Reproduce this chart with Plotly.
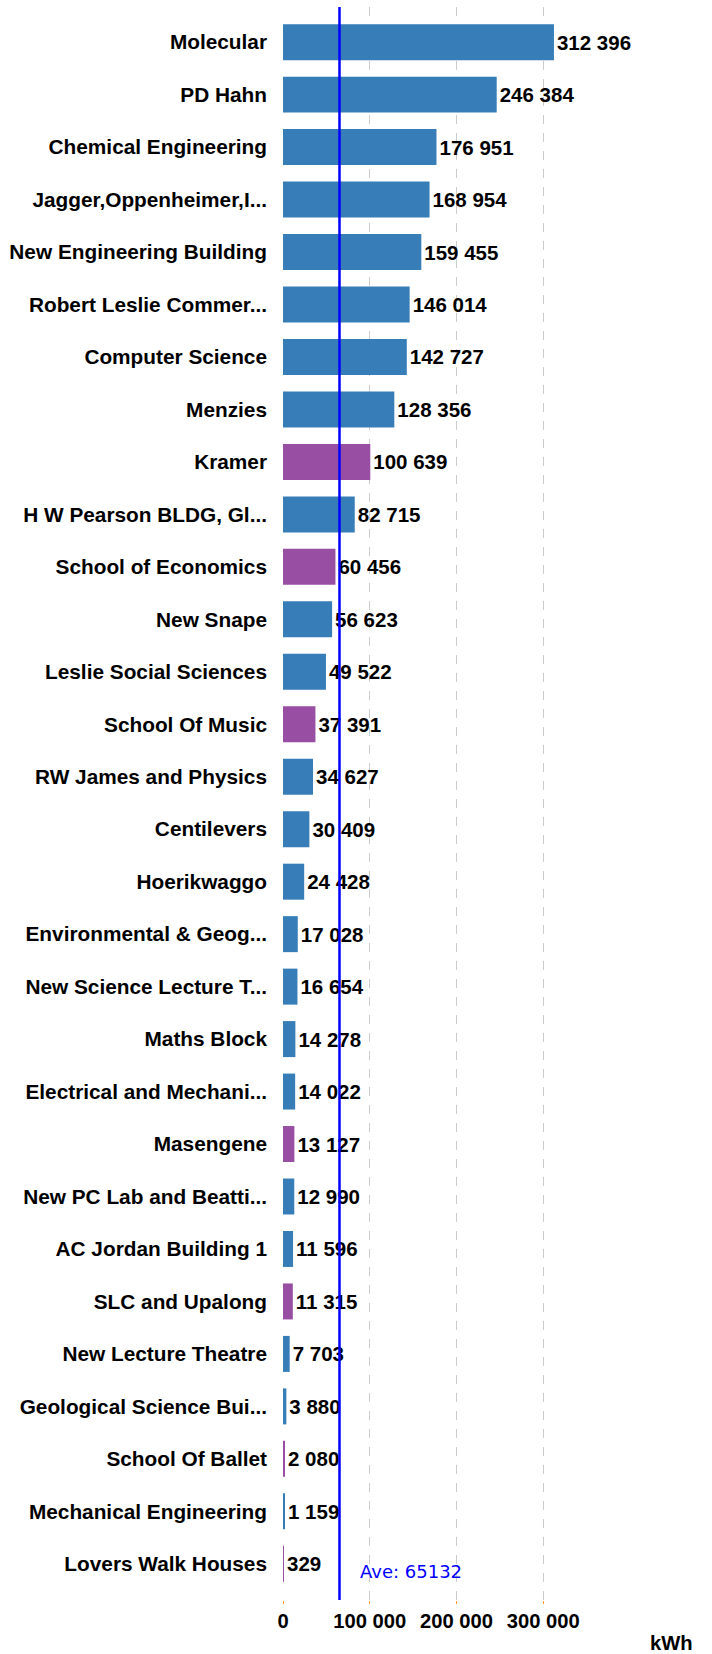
import plotly.graph_objects as go

categories = [
    "Molecular", "PD Hahn", "Chemical Engineering", "Jagger,Oppenheimer,I...",
    "New Engineering Building", "Robert Leslie Commer...", "Computer Science",
    "Menzies", "Kramer", "H W Pearson BLDG, Gl...", "School of Economics",
    "New Snape", "Leslie Social Sciences", "School Of Music", "RW James and Physics",
    "Centilevers", "Hoerikwaggo", "Environmental & Geog...", "New Science Lecture T...",
    "Maths Block", "Electrical and Mechani...", "Masengene", "New PC Lab and Beatti...",
    "AC Jordan Building 1", "SLC and Upalong", "New Lecture Theatre",
    "Geological Science Bui...", "School Of Ballet", "Mechanical Engineering",
    "Lovers Walk Houses",
]
values = [
    312396, 246384, 176951, 168954, 159455, 146014, 142727, 128356, 100639, 82715,
    60456, 56623, 49522, 37391, 34627, 30409, 24428, 17028, 16654, 14278,
    14022, 13127, 12990, 11596, 11315, 7703, 3880, 2080, 1159, 329,
]
highlighted = [
    "Kramer", "School of Economics", "School Of Music", "Masengene",
    "SLC and Upalong", "School Of Ballet", "Lovers Walk Houses",
]
average = 65132
x_ticks = [0, 100000, 200000, 300000]

BLUE = "#377eb8"
PURPLE = "#984ea3"
colors = [PURPLE if c in highlighted else BLUE for c in categories]

FAMILY = "Liberation Sans, Arial, sans-serif"
cat_font = dict(family=FAMILY, size=20.8, color="#000000", weight="bold")
val_font = dict(family=FAMILY, size=20.5, color="#000000", weight="bold")
tick_font = dict(family=FAMILY, size=20.2, color="#000000", weight="bold")

fig = go.Figure(
    go.Bar(
        y=categories,
        x=values,
        orientation="h",
        marker=dict(color=colors, line=dict(width=0)),
        width=0.686,
        text=values,
        texttemplate="%{x:,}",
        textposition="outside",
        textfont=val_font,
        cliponaxis=False,
        hoverinfo="skip",
    )
)

n = len(categories)
fig.update_layout(
    width=712,
    height=1654,
    margin=dict(l=283, r=17, t=7, b=54),
    paper_bgcolor="white",
    plot_bgcolor="white",
    separators=". ",
    showlegend=False,
    xaxis=dict(
        range=[0, 475000],
        tickvals=x_ticks,
        tickformat=",",
        tickfont=tick_font,
        showgrid=True,
        gridcolor="#cccccc",
        griddash="dash",
        gridwidth=1,
        zeroline=False,
        showline=False,
        ticks="outside",
        ticklen=3,
        tickcolor="#ff9933",
    ),
    yaxis=dict(
        type="category",
        categoryorder="array",
        categoryarray=categories,
        range=[n - 1 + 0.69, -0.67],
        tickfont=cat_font,
        ticklabelstandoff=15,
        showgrid=False,
        zeroline=False,
        showline=False,
        ticks="",
    ),
    shapes=[
        dict(
            type="line", xref="x", yref="paper",
            x0=average, x1=average, y0=0, y1=1,
            line=dict(color="#0000ff", width=2.5),
            layer="above",
        )
    ],
    annotations=[
        dict(
            x=average, xref="x", y=0.018, yref="paper",
            text=f"Ave: {average}",
            showarrow=False, xanchor="left", yanchor="middle", xshift=19,
            font=dict(family="DejaVu Sans, Verdana, sans-serif", size=18, color="#0000ff"),
        ),
        dict(
            x=1, xref="paper", y=-0.027, yref="paper",
            text="kWh", showarrow=False, xanchor="right", yanchor="middle",
            font=tick_font,
        ),
    ],
)

fig.write_html(
    "out.html",
    config={"displayModeBar": False},
    post_script="document.body.style.margin='0px';document.body.style.overflow='hidden';",
)
